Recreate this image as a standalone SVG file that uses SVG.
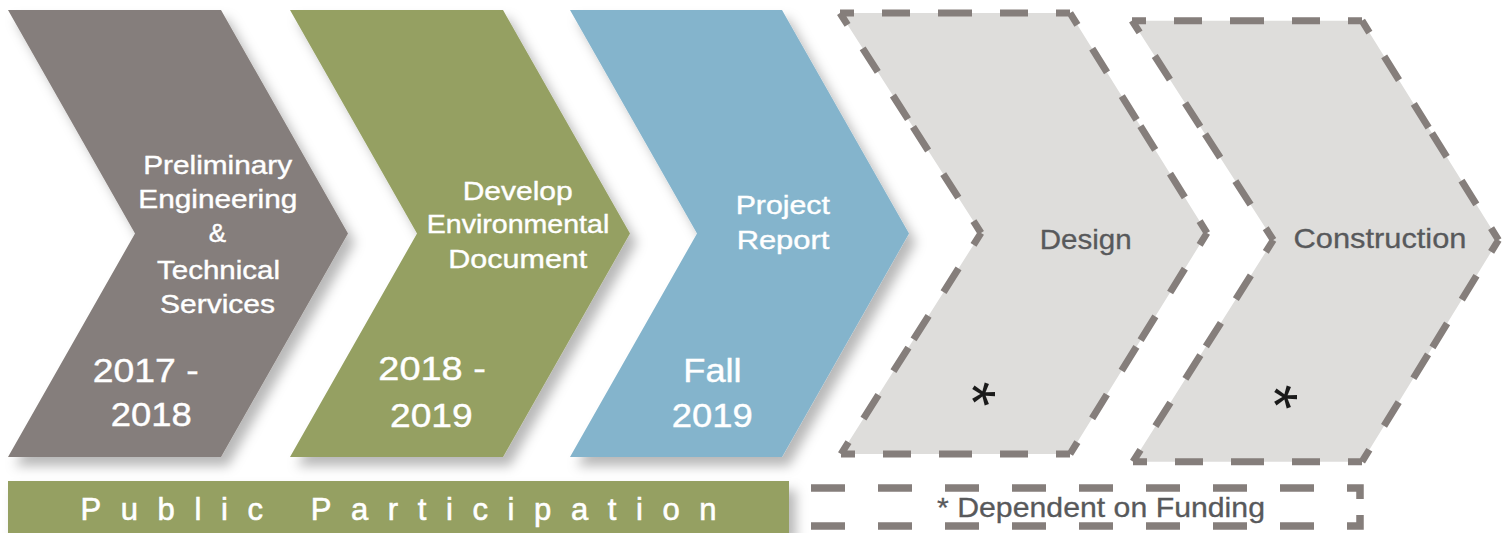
<svg xmlns="http://www.w3.org/2000/svg" width="1504" height="533" viewBox="0 0 1504 533">
<style>
.lbl{font-family:"Liberation Sans",Arial,Helvetica,sans-serif;fill:#ffffff;stroke:#ffffff;stroke-width:0.4px;font-size:26px}
.yr{font-family:"Liberation Sans",Arial,Helvetica,sans-serif;fill:#ffffff;stroke:#ffffff;stroke-width:0.4px;font-size:33px}
.dk{font-family:"Liberation Sans",Arial,Helvetica,sans-serif;fill:#58595b;stroke:#58595b;stroke-width:0.3px;font-size:28px}
.ast{font-family:"Liberation Sans",Arial,Helvetica,sans-serif;fill:#1a1a1a;font-size:64px}
.dash{fill:none;stroke:#857e7b;stroke-width:7;stroke-dasharray:28 28;stroke-dashoffset:14}
.pend{fill:#dedddb}
</style>
<defs>
<filter id="sh" x="-10%" y="-10%" width="130%" height="130%">
<feDropShadow dx="7" dy="9" stdDeviation="6" flood-color="#000" flood-opacity="0.28"/>
</filter>
</defs>
<rect width="1504" height="533" fill="#ffffff"/>

<g id="step-preliminary">
<polygon points="8,10 221,10 348,233.5 221,457 8,457 135,233.5" fill="#857e7b" filter="url(#sh)"/>
<text class="lbl" x="217.7" y="174.3" text-anchor="middle" textLength="149" lengthAdjust="spacingAndGlyphs">Preliminary</text>
<text class="lbl" x="217.8" y="207.7" text-anchor="middle" textLength="159" lengthAdjust="spacingAndGlyphs">Engineering</text>
<text class="lbl" x="217.5" y="241.7" text-anchor="middle">&amp;</text>
<text class="lbl" x="218.5" y="279.3" text-anchor="middle" textLength="123" lengthAdjust="spacingAndGlyphs">Technical</text>
<text class="lbl" x="217.5" y="313.3" text-anchor="middle" textLength="115" lengthAdjust="spacingAndGlyphs">Services</text>
<text class="yr" x="92.7" y="381.7" textLength="106" lengthAdjust="spacingAndGlyphs">2017 -</text>
<text class="yr" x="110.7" y="426" textLength="81" lengthAdjust="spacingAndGlyphs">2018</text>
</g>

<g id="step-environmental">
<polygon points="290,10 503,10 630,233.5 503,457 290,457 417,233.5" fill="#95a062" filter="url(#sh)"/>
<text class="lbl" x="517.7" y="200" text-anchor="middle" textLength="110" lengthAdjust="spacingAndGlyphs">Develop</text>
<text class="lbl" x="518" y="233.3" text-anchor="middle" textLength="182.6" lengthAdjust="spacingAndGlyphs">Environmental</text>
<text class="lbl" x="517.8" y="268.3" text-anchor="middle" textLength="139" lengthAdjust="spacingAndGlyphs">Document</text>
<text class="yr" x="378.3" y="380" textLength="107.5" lengthAdjust="spacingAndGlyphs">2018 -</text>
<text class="yr" x="390" y="426.7" textLength="82.7" lengthAdjust="spacingAndGlyphs">2019</text>
</g>

<g id="step-report">
<polygon points="570,10 782,10 909,233.5 782,457 570,457 697,233.5" fill="#84b4cc" filter="url(#sh)"/>
<text class="lbl" x="782.8" y="214.3" text-anchor="middle" textLength="94.3" lengthAdjust="spacingAndGlyphs">Project</text>
<text class="lbl" x="783" y="249.3" text-anchor="middle" textLength="92.6" lengthAdjust="spacingAndGlyphs">Report</text>
<text class="yr" x="683.3" y="381.7" textLength="58.3" lengthAdjust="spacingAndGlyphs">Fall</text>
<text class="yr" x="671.7" y="426.7" textLength="81" lengthAdjust="spacingAndGlyphs">2019</text>
</g>

<g id="step-design">
<polygon class="pend" points="840,13 1070,13 1207,233 1070,454 841,454 981,233"/>
<path class="dash" d="M840,13 L955,13 M1070,13 L955,13 M1070,13 L1138.5,123 M1207,233 L1138.5,123 M1207,233 L1138.5,343.5 M1070,454 L1138.5,343.5 M1070,454 L955.5,454 M841,454 L955.5,454 M841,454 L911,343.5 M981,233 L911,343.5 M981,233 L910.5,123 M840,13 L910.5,123"/>
<text class="dk" x="1085.7" y="249" text-anchor="middle" textLength="92" lengthAdjust="spacingAndGlyphs">Design</text>
<text class="ast" transform="translate(981.7,394) rotate(90)" x="0" y="31.4" text-anchor="middle">*</text>
</g>

<g id="step-construction">
<polygon class="pend" points="1132,20.7 1362,20.7 1498.5,240 1362,461.7 1133,461.7 1273.3,240"/>
<path class="dash" d="M1132,20.7 L1247,20.7 M1362,20.7 L1247,20.7 M1362,20.7 L1430.25,130.35 M1498.5,240 L1430.25,130.35 M1498.5,240 L1430.25,350.85 M1362,461.7 L1430.25,350.85 M1362,461.7 L1247.5,461.7 M1133,461.7 L1247.5,461.7 M1133,461.7 L1203.15,350.85 M1273.3,240 L1203.15,350.85 M1273.3,240 L1202.65,130.35 M1132,20.7 L1202.65,130.35"/>
<text class="dk" x="1380" y="248.3" text-anchor="middle" textLength="173" lengthAdjust="spacingAndGlyphs">Construction</text>
<text class="ast" transform="translate(1283.3,397) rotate(90)" x="0" y="31.4" text-anchor="middle">*</text>
</g>

<g id="public-participation">
<rect x="8" y="481" width="781" height="52" fill="#95a062" filter="url(#sh)"/>
<text x="80.5" y="520" font-family="Liberation Sans, Arial, Helvetica, sans-serif" font-size="31" fill="#ffffff" stroke="#ffffff" stroke-width="0.6" letter-spacing="19.6">Public Participation</text>
</g>

<g id="funding-note">
<path d="M811,488 H1360 V499 M811,526 H1360 V515" fill="none" stroke="#857e7b" stroke-width="7.5" stroke-dasharray="34 33"/>
<text class="dk" x="937" y="517" font-size="27" textLength="328" lengthAdjust="spacingAndGlyphs">* Dependent on Funding</text>
</g>

<g id="connectors"></g>
</svg>
